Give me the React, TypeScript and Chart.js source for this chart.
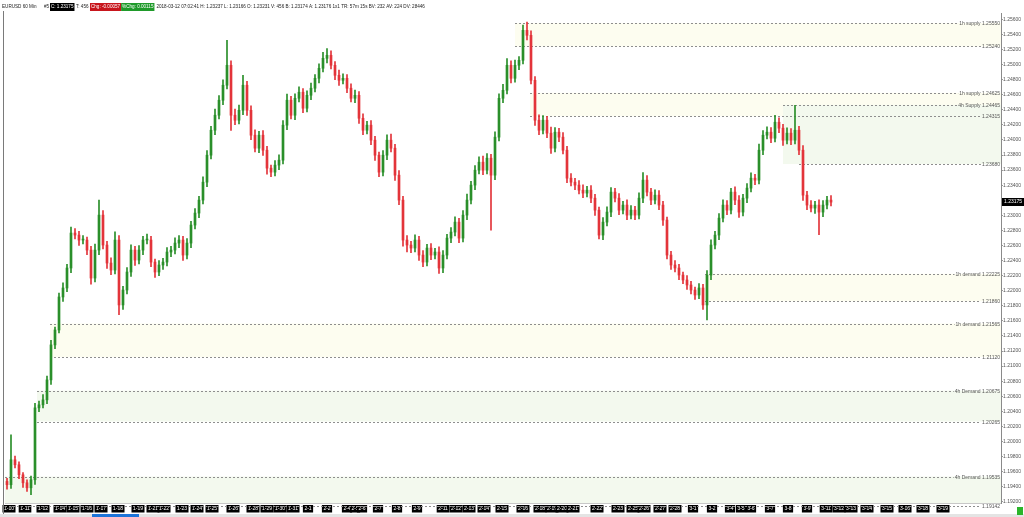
import React, { useEffect, useRef } from "react";
import { Chart, registerables } from "chart.js";

Chart.register(...registerables);

// ---------- DATA ----------
const firstOpen = 1.1947;

const closes = [
  1.19426, 1.19757, 1.19691, 1.19558, 1.19452, 1.19386, 1.19492, 1.20446, 1.20486, 1.20552,
  1.20817, 1.21281, 1.21479, 1.21917, 1.22036, 1.22301, 1.22765, 1.22738, 1.22672, 1.22672,
  1.22539, 1.22168, 1.22539, 1.23003, 1.22606, 1.22367, 1.22274, 1.22672, 1.21811, 1.22009,
  1.22248, 1.22539, 1.22407, 1.22539, 1.22672, 1.22672, 1.2238, 1.22248, 1.22341, 1.2238,
  1.22513, 1.22539, 1.22632, 1.22672, 1.22473, 1.22632, 1.22871, 1.2303, 1.23202, 1.2344,
  1.23798, 1.24129, 1.24328, 1.24527, 1.24726, 1.24991, 1.24328, 1.24262, 1.24394, 1.24726,
  1.24394, 1.24063, 1.23891, 1.24063, 1.23864, 1.23626, 1.23573, 1.23666, 1.23732, 1.24196,
  1.24527, 1.24328, 1.24553, 1.24633, 1.24421, 1.24593, 1.24686, 1.24818, 1.24951, 1.25083,
  1.25123, 1.24991, 1.24858, 1.24792, 1.24818, 1.24686, 1.24553, 1.24593, 1.24288, 1.24129,
  1.24196, 1.23997, 1.23798, 1.23573, 1.23798, 1.23997, 1.23891, 1.23533, 1.23202, 1.22672,
  1.22606, 1.22566, 1.22672, 1.22473, 1.2238, 1.22566, 1.22473, 1.22513, 1.22301, 1.22473,
  1.22698, 1.22778, 1.2291, 1.22698, 1.23003, 1.23202, 1.23401, 1.23599, 1.23705, 1.23599,
  1.23758, 1.23533, 1.24037, 1.24553, 1.24659, 1.24991, 1.24818, 1.24991, 1.25057, 1.25454,
  1.25388, 1.24792, 1.24262, 1.24129, 1.24262, 1.2409, 1.23891, 1.24103, 1.24037, 1.23864,
  1.23493, 1.2344, 1.23401, 1.23334, 1.23295, 1.23334, 1.23228, 1.23069, 1.22738, 1.2291,
  1.23043, 1.23308, 1.23228, 1.23069, 1.23136, 1.23003, 1.23069, 1.23003, 1.23228, 1.23467,
  1.23308, 1.23202, 1.23268, 1.23136, 1.22937, 1.22473, 1.22341, 1.22301, 1.22208, 1.22142,
  1.22076, 1.22009, 1.21943, 1.22036, 1.21811, 1.22208, 1.22606, 1.22738, 1.22963, 1.23136,
  1.23069, 1.23308, 1.23202, 1.23043, 1.23228, 1.23361, 1.23493, 1.23467, 1.23864, 1.24063,
  1.24103, 1.24023, 1.24235, 1.24156, 1.23997, 1.2409, 1.23997, 1.24129, 1.23864, 1.23268,
  1.23136, 1.23096, 1.23136, 1.23043, 1.23136, 1.23202, 1.23175,
];

// wick lengths beyond the body, in pips
const upperWickPips = [
  4, 33, 5, 4, 3, 4, 5, 6, 5, 7,
  5, 6, 4, 5, 7, 5, 8, 6, 5, 6,
  4, 5, 8, 20, 6, 5, 7, 11, 6, 5,
  6, 7, 5, 6, 5, 8, 5, 4, 6, 5,
  6, 5, 7, 6, 5, 6, 5, 6, 5, 7,
  6, 5, 8, 6, 7, 33, 6, 8, 7, 13,
  5, 6, 7, 5, 6, 5, 4, 6, 7, 6,
  8, 5, 6, 7, 5, 6, 7, 5, 6, 8,
  9, 6, 5, 7, 6, 5, 6, 7, 5, 6,
  5, 6, 5, 4, 6, 7, 8, 5, 6, 5,
  6, 5, 7, 5, 6, 5, 6, 5, 7, 6,
  5, 6, 7, 5, 6, 8, 5, 6, 7, 8,
  6, 5, 7, 6, 8, 9, 6, 7, 5, 7,
  11, 6, 5, 7, 6, 5, 8, 6, 5, 6,
  5, 6, 5, 6, 7, 5, 6, 5, 4, 6,
  7, 6, 5, 6, 5, 7, 6, 5, 7, 10,
  6, 5, 7, 6, 5, 4, 5, 6, 5, 4,
  6, 5, 4, 6, 5, 6, 7, 5, 6, 7,
  6, 5, 7, 6, 5, 6, 7, 5, 8, 6,
  7, 6, 9, 6, 5, 7, 6, 33, 5, 6,
  5, 6, 5, 7, 6, 5, 6,
];

const lowerWickPips = [
  6, 5, 4, 5, 6, 5, 9, 6, 5, 4,
  5, 6, 5, 4, 6, 5, 6, 5, 7, 5,
  6, 8, 5, 6, 5, 7, 6, 5, 13, 6,
  5, 6, 7, 5, 6, 5, 6, 7, 5, 6,
  5, 6, 5, 6, 7, 5, 6, 5, 6, 5,
  6, 5, 6, 5, 6, 5, 20, 6, 5, 6,
  7, 6, 5, 6, 7, 8, 6, 5, 6, 5,
  6, 5, 6, 5, 6, 5, 6, 5, 6, 5,
  6, 5, 6, 7, 5, 6, 5, 6, 7, 6,
  5, 6, 7, 6, 5, 6, 5, 7, 6, 8,
  9, 6, 5, 7, 6, 5, 6, 5, 7, 6,
  5, 6, 5, 6, 5, 6, 5, 6, 5, 6,
  5, 73, 6, 5, 6, 5, 6, 5, 6, 5,
  6, 5, 7, 6, 5, 6, 7, 5, 6, 5,
  6, 5, 6, 5, 6, 5, 6, 7, 5, 6,
  5, 6, 5, 6, 5, 6, 5, 6, 5, 6,
  5, 6, 5, 6, 7, 5, 6, 5, 6, 5,
  6, 5, 6, 5, 6, 20, 6, 5, 6, 5,
  6, 5, 6, 7, 5, 6, 5, 6, 5, 6,
  5, 6, 5, 6, 7, 5, 6, 5, 6, 7,
  6, 5, 7, 30, 6, 5, 5,
];

const dayLabels = [
  "1-10", "1-11", "1-12", "1-14", "1-15", "1-16", "1-17", "1-18", "1-19", "1-21",
  "1-22", "1-23", "1-24", "1-25", "1-26", "1-28", "1-29", "1-30", "1-31", "2-1",
  "2-2", "2-4", "2-5", "2-6", "2-7", "2-8", "2-9", "2-11", "2-12", "2-13",
  "2-14", "2-15", "2-16", "2-18", "2-19", "2-20", "2-21", "2-22", "2-23", "2-25",
  "2-26", "2-27", "2-28", "3-1", "3-2", "3-4", "3-5", "3-6", "3-7", "3-8",
  "3-9", "3-11", "3-12", "3-13", "3-14", "3-15", "3-16", "3-18", "3-19",
];
// bar index at which each day label sits
const dayTickIndex = [
  0.5, 4.5, 9, 13.25, 16.5, 20, 23.5, 27.75, 32.75, 36.5,
  39.25, 43.75, 47.5, 51.25, 56.5, 61.5, 65, 68.25, 71.5, 75.25,
  80, 85, 87, 88.75, 92.75, 97.5, 102.5, 109, 112.25, 115.5,
  119.25, 123.75, 129, 133.25, 136.25, 138.75, 141.5, 147.5, 152.75, 156.5,
  159.25, 163.25, 167, 171.5, 176.25, 180.75, 183.5, 186, 190.75, 195.25,
  200, 204.75, 208, 211, 215, 220, 224.5, 229, 234,
];

const yTickValues = [
  1.192, 1.194, 1.196, 1.198, 1.2, 1.202, 1.204, 1.206, 1.208, 1.21,
  1.212, 1.214, 1.216, 1.218, 1.22, 1.222, 1.224, 1.226, 1.228, 1.23,
  1.232, 1.234, 1.236, 1.238, 1.24, 1.242, 1.244, 1.246, 1.248, 1.25,
  1.252, 1.254, 1.256,
];

const levelPrices = [
  1.2555, 1.2524, 1.24625, 1.24465, 1.24315, 1.2368, 1.22225,
  1.2186, 1.21565, 1.2112, 1.20675, 1.20265, 1.19535, 1.19142,
];
const levelNames = [
  "1h supply", "", "1h supply", "4h Supply", "", "", "1h demand",
  "", "1h demand", "", "4h Demand", "", "4h Demand", "",
];
const levelStartIndex = [
  127, 127, 130.75, 194, 130.75, 198, 174.5,
  174.5, 10.75, 10.75, 7.5, 7.5, -0.5, -0.5,
];

const zoneHigh = [1.2555, 1.24625, 1.24465, 1.22225, 1.21565, 1.20675, 1.19535];
const zoneLow = [1.2524, 1.24315, 1.2368, 1.2186, 1.2112, 1.20265, 1.19142];
const zoneStartIndex = [127, 130.75, 194, 174.5, 10.75, 7.5, -0.5];
const zoneFrame = ["1h", "1h", "4h", "1h", "1h", "4h", "4h"];

const headerSymbol = "EURUSD 60 Min";
const headerBar = "#5";
const headerClose = "C: 1.23175";
const headerTicks = "T: 456";
const headerChange = "Chg: -0.00057";
const headerPctChange = "%Chg: 0.00115";
const headerRest =
  "2018-03-12 07:02:41 H: 1.23237 L: 1.23166 O: 1.23231 V: 456 B: 1.23174 A: 1.23176 1x1 TR: 57m 15s BV: 232 AV: 224 DV: 28446";

// ---------- STYLE ----------
const FONT = '"Liberation Sans", Arial, sans-serif';
const UP = "#2a8f2a";
const DOWN = "#e3343a";
const ZONE_1H = "#fdfdf0";
const ZONE_4H = "#f3f9ee";
const Y_MIN = 1.19184;
const Y_MAX = 1.25684;
const X_MIN = -0.5;
const X_MAX = 248.5;

const opens = closes.map((c, i) => (i === 0 ? firstOpen : closes[i - 1]));
const highs = closes.map((c, i) => Math.max(opens[i], c) + upperWickPips[i] * 0.0001);
const lows = closes.map((c, i) => Math.min(opens[i], c) - lowerWickPips[i] * 0.0001);
const candleColors = closes.map((c, i) => (c >= opens[i] ? UP : DOWN));

const overlayPlugin = {
  id: "overlay",
  beforeDatasetsDraw(chart: any) {
    const { ctx, chartArea } = chart;
    const xs = chart.scales.x;
    const ys = chart.scales.y;
    ctx.save();
    ctx.save();
    ctx.beginPath();
    ctx.rect(chartArea.left, chartArea.top, chartArea.right - chartArea.left, chartArea.bottom - chartArea.top);
    ctx.clip();
    zoneHigh.forEach((hi, k) => {
      const x0 = Math.max(chartArea.left, xs.getPixelForValue(zoneStartIndex[k]));
      const y0 = ys.getPixelForValue(hi);
      const y1 = ys.getPixelForValue(zoneLow[k]);
      ctx.fillStyle = zoneFrame[k] === "4h" ? ZONE_4H : ZONE_1H;
      ctx.fillRect(x0, y0, chartArea.right - x0, y1 - y0);
    });
    ctx.restore();
    ctx.font = `5px ${FONT}`;
    levelPrices.forEach((p, k) => {
      const yy = Math.round(ys.getPixelForValue(p)) + 0.5;
      const text = levelNames[k] ? `${levelNames[k]} ${p.toFixed(5)}` : p.toFixed(5);
      const tw = ctx.measureText(text).width;
      const xe = chartArea.right - 1 - tw - 1;
      const x0 = Math.max(chartArea.left, xs.getPixelForValue(levelStartIndex[k]));
      ctx.strokeStyle = "#8e8e8e";
      ctx.lineWidth = 1;
      ctx.setLineDash([2, 2]);
      ctx.beginPath();
      ctx.moveTo(x0, yy);
      ctx.lineTo(xe, yy);
      ctx.stroke();
      ctx.setLineDash([]);
      ctx.fillStyle = "#555";
      ctx.textAlign = "right";
      ctx.textBaseline = "middle";
      ctx.fillText(text, chartArea.right - 1, yy);
    });
    ctx.restore();
  },
  afterDraw(chart: any) {
    const { ctx, chartArea } = chart;
    const ys = chart.scales.y;
    ctx.save();
    ctx.fillStyle = "#7a7a7a";
    ctx.fillRect(3, 11, 1, 506);
    const last = closes[closes.length - 1];
    const py = ys.getPixelForValue(last);
    ctx.fillStyle = "#000";
    ctx.fillRect(chartArea.right + 1, Math.round(py) - 4, 22, 8);
    ctx.fillStyle = "#fff";
    ctx.font = `5px ${FONT}`;
    ctx.textAlign = "left";
    ctx.textBaseline = "middle";
    ctx.fillText(last.toFixed(5), chartArea.right + 3, Math.round(py));
    // header
    const hy = 7;
    ctx.font = `4.6px ${FONT}`;
    ctx.textBaseline = "middle";
    const plain = (text: string, x: number) => {
      ctx.fillStyle = "#222";
      ctx.fillText(text, x, hy);
      return x + ctx.measureText(text).width;
    };
    const boxed = (text: string, x: number, bg: string) => {
      const w = ctx.measureText(text).width + 2;
      ctx.fillStyle = bg;
      ctx.fillRect(x, 3, w, 8);
      ctx.fillStyle = "#fff";
      ctx.fillText(text, x + 1, hy);
      return x + w;
    };
    plain(headerSymbol, 2);
    plain(headerBar, 44);
    let cx = boxed(headerClose, 50, "#000");
    cx = plain(headerTicks, cx + 1.5);
    cx = boxed(headerChange, cx + 1.5, "#c8161d");
    cx = boxed(headerPctChange, cx, "#1f9a2a");
    plain(headerRest, cx + 2);
    // scrollbar
    ctx.fillStyle = "#e4e4e4";
    ctx.fillRect(0, 514, 1024, 3);
    ctx.fillStyle = "#1c74d9";
    ctx.fillRect(92, 514, 47, 3);
    ctx.fillStyle = "#2bb52b";
    ctx.fillRect(1017, 507, 6, 8);
    ctx.restore();
  },
};

export default function App() {
  const ref = useRef<HTMLCanvasElement | null>(null);
  useEffect(() => {
    if (!ref.current) return;
    Chart.defaults.font.family = FONT;
    const chart = new Chart(ref.current, {
      type: "bar",
      data: {
        datasets: [
          {
            label: "wick",
            data: closes.map((c, i) => ({ x: i, y: [lows[i], highs[i]] })) as any,
            backgroundColor: candleColors,
            barThickness: 1,
            grouped: false,
            order: 2,
          } as any,
          {
            label: "body",
            data: closes.map((c, i) => ({ x: i, y: [opens[i], c] })) as any,
            backgroundColor: candleColors,
            barThickness: 2,
            minBarLength: 1,
            grouped: false,
            order: 1,
          } as any,
        ],
      },
      options: {
        responsive: false,
        animation: false,
        layout: { padding: { top: 13, left: 5, right: 0, bottom: 0 } },
        plugins: { legend: { display: false }, tooltip: { enabled: false } },
        scales: {
          x: {
            type: "linear",
            min: X_MIN,
            max: X_MAX,
            offset: false,
            grid: { display: false, drawTicks: false, offset: false },
            border: { display: true, color: "#c8c8c8" },
            afterBuildTicks: (scale: any) => {
              scale.ticks = dayTickIndex.map((v) => ({ value: v }));
            },
            afterFit: (scale: any) => {
              scale.height = 14;
            },
            ticks: {
              autoSkip: false,
              maxRotation: 0,
              minRotation: 0,
              padding: 3,
              color: "#fff",
              font: { size: 5, family: FONT },
              showLabelBackdrop: true,
              backdropColor: "#000",
              backdropPadding: { top: 1, bottom: 0.5, left: 1.5, right: 1.5 },
              callback: (_v: any, idx: number) => dayLabels[idx],
            },
          } as any,
          y: {
            type: "linear",
            position: "right",
            min: Y_MIN,
            max: Y_MAX,
            grid: { display: true, drawOnChartArea: false, drawTicks: true, tickLength: 2, color: "#9a9a9a" },
            border: { display: true, color: "#8a8a8a" },
            afterBuildTicks: (scale: any) => {
              scale.ticks = yTickValues.map((v) => ({ value: v }));
            },
            afterFit: (scale: any) => {
              scale.width = 23;
            },
            ticks: {
              autoSkip: false,
              padding: 0,
              color: "#555",
              font: { size: 5, family: FONT },
              callback: (v: any) => Number(v).toFixed(5),
            },
          } as any,
        },
      },
      plugins: [overlayPlugin],
    } as any);
    return () => chart.destroy();
  }, []);
  return (
    <div style={{ position: "absolute", left: 0, top: 0, width: 1024, height: 517, background: "#fff" }}>
      <canvas ref={ref} width={1024} height={517} style={{ display: "block" }} />
    </div>
  );
}
